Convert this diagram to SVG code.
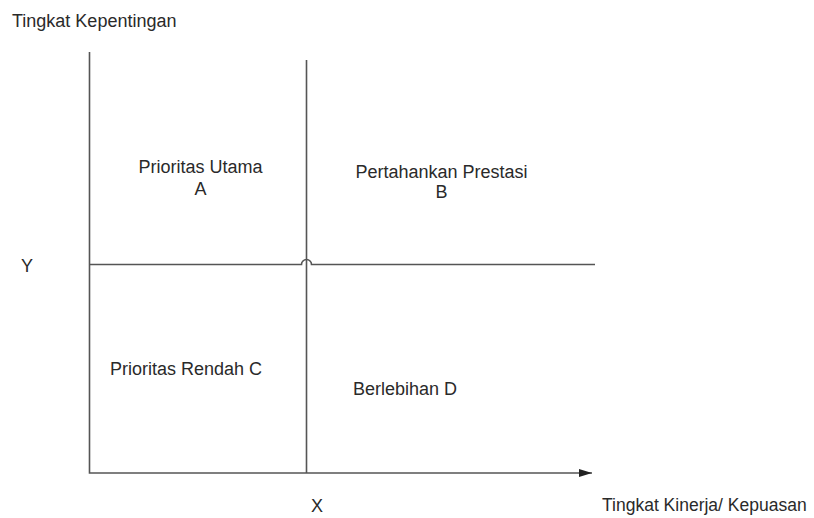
<svg xmlns="http://www.w3.org/2000/svg" width="814" height="518" viewBox="0 0 814 518">
<style>
.ln{stroke:#555;stroke-width:1.6;fill:none}
.t{font-family:"Liberation Sans",Arial,sans-serif;font-size:18px;fill:#2a2a2a}
.c{text-anchor:middle}
</style>
<defs>
<marker id="arr" markerWidth="14" markerHeight="8" refX="13" refY="4" orient="auto" markerUnits="userSpaceOnUse">
<path d="M0,0 L13,4 L0,8 Z" fill="#222"/>
</marker>
</defs>
<rect width="814" height="518" fill="#fff"/>
<g id="connectors">
<path class="ln" d="M89.5,52 V473 H592" marker-end="url(#arr)"/>
<path class="ln" d="M306.5,60 V473"/>
<path class="ln" d="M90,264.5 H301.5 A5,5 0 0 1 311.5,264.5 H595"/>
</g>
<g id="axis-y-label"><text class="t" x="12" y="27">Tingkat Kepentingan</text><text class="t" x="21" y="272">Y</text></g>
<g id="axis-x-label"><text class="t" x="311" y="512">X</text><text class="t" x="602" y="511" style="font-size:17.5px">Tingkat Kinerja/ Kepuasan</text></g>
<g id="quadrant-a"><text class="t c" x="200.5" y="173">Prioritas Utama</text><text class="t c" x="200.5" y="195">A</text></g>
<g id="quadrant-b"><text class="t c" x="441.5" y="178">Pertahankan Prestasi</text><text class="t c" x="441.5" y="198">B</text></g>
<g id="quadrant-c"><text class="t" x="110" y="375">Prioritas Rendah C</text></g>
<g id="quadrant-d"><text class="t" x="353" y="395">Berlebihan D</text></g>
</svg>
